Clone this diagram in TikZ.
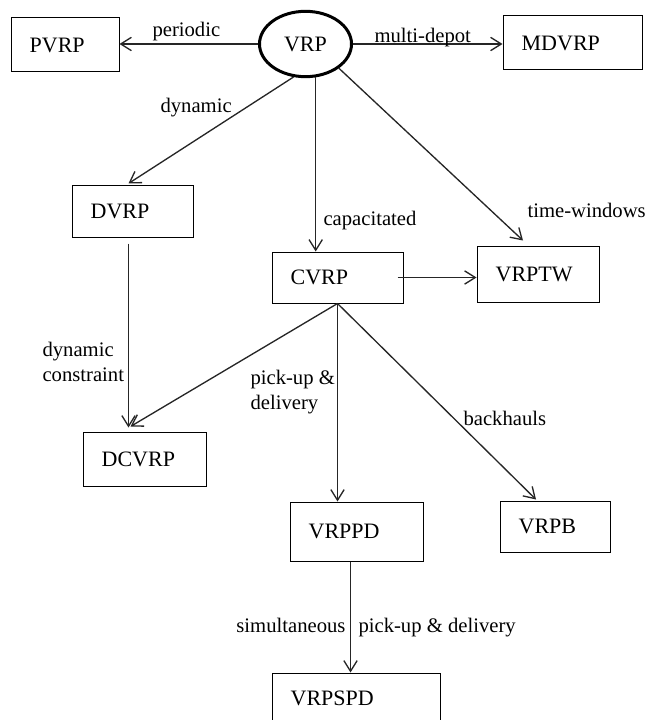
\documentclass[tikz,border=0pt]{standalone}
\usepackage{fontspec}
\setmainfont{Liberation Serif}
\usetikzlibrary{shapes.geometric,arrows.meta,calc}

\newcommand{\boxfont}{\fontsize{16.5}{20}\selectfont}
\newcommand{\edgefont}{\fontsize{15.5}{18.5}\selectfont}

\tikzset{every picture/.style={line width=0.75pt}}
\tikzset{
  box/.style={draw, align=left, text width=#1, inner xsep=14pt, inner ysep=0pt, font=\boxfont},
  lbl/.style={inner sep=0pt, font=\edgefont},
  arr/.style={draw=black!85, line width=1pt, -{Straight Barb[length=8pt,width=10pt]}}
}

\begin{document}
\begin{tikzpicture}[x=0.75pt,y=0.75pt,yscale=-1,xscale=1]
\useasboundingbox (0,0) rectangle (646,720);
\clip (0,0) rectangle (646,720);

%Shape: Ellipse [id:vrp]
\node[draw, ellipse, line width=2.25pt, minimum width=69pt, minimum height=49pt, inner sep=0pt, font=\boxfont] (vrp) at (305.5,44) {VRP};

%Shape: Rectangle
\node[box=53pt, minimum height=40.5pt] (pvrp) at (65,45) {PVRP};
\node[box=76.25pt, minimum height=40.5pt] (mdvrp) at (572.5,43) {MDVRP};
\node[box=62.75pt, minimum height=38.25pt] (dvrp) at (132.5,211.5) {DVRP};
\node[box=70.25pt, minimum height=38.25pt] (cvrp) at (337.5,277.5) {CVRP};
\node[box=63.5pt, minimum height=42pt] (vrptw) at (538,274) {VRPTW};
\node[box=64.25pt, minimum height=40.5pt] (dcvrp) at (144.5,459) {DCVRP};
\node[box=71.75pt, minimum height=44.25pt] (vrppd) at (356.5,531.5) {VRPPD};
\node[box=54.5pt, minimum height=38.25pt] (vrpb) at (555,526.5) {VRPB};
\node[box=98pt, minimum height=37.5pt] (vrpspd) at (356,698) {VRPSPD};

% end points off the box borders
\coordinate (cvrpout) at ($(cvrp.east)+(-6,0)$);
\coordinate (dvrpout) at ($(dvrp.south)+(-4,6)$);
\coordinate (dcvrpin) at ($(dcvrp.north)+(-16,-4)$);
\coordinate (vrppdout) at ($(vrppd.south)+(-6,0)$);

%Straight Lines
\draw[arr] (vrp.west) -- (vrp.west -| pvrp.east);
\draw[arr] (vrp.east) -- (vrp.east -| mdvrp.west);
\draw[arr] (vrp.250) -- ($(dvrp.north)+(-4,-2)$);
\draw[arr] (vrp.287) -- (vrp.287 |- cvrp.north);
\draw[arr] (vrp.324) -- ($(vrptw.north)+(-15,-5)$);
\draw[arr] (cvrpout) -- (cvrpout -| vrptw.west);
\draw[arr] (dvrpout) -- (dcvrpin);
\draw[arr] (cvrp.south) -- ($(dcvrp.north)+(-14,-5)$);
\draw[arr] (cvrp.south) -- (cvrp.south |- vrppd.north);
\draw[arr] (cvrp.south) -- ($(vrpb.north)+(-19,-1)$);
\draw[arr] (vrppdout) -- (vrppdout |- vrpspd.north);

% Text Node
\node[lbl, anchor=base west] (periodic) at (152,37) {periodic};
% Text Node
\node[lbl, anchor=base west] (multidepot) at (374,43) {multi-depot};
% Text Node
\node[lbl, anchor=base west] (dynamic) at (160,113) {dynamic};
% Text Node
\node[lbl, anchor=base west] (capacitated) at (323,225) {capacitated};
% Text Node
\node[lbl, anchor=base west] (timewindows) at (527,218) {time-windows};
% Text Node
\node[lbl, anchor=west, align=left] (dynconstraint) at (42,362) {dynamic\\constraint};
% Text Node
\node[lbl, anchor=west, align=left] (pickup) at (250,392) {pick-up \&\\delivery};
% Text Node
\node[lbl, anchor=base west] (backhauls) at (463,425) {backhauls};
% Text Node
\node[lbl, anchor=base east] (simultaneous) at (346,632) {simultaneous};
% Text Node
\node[lbl, anchor=base west] (spd) at (358,632) {pick-up \& delivery};

\end{tikzpicture}
\end{document}
